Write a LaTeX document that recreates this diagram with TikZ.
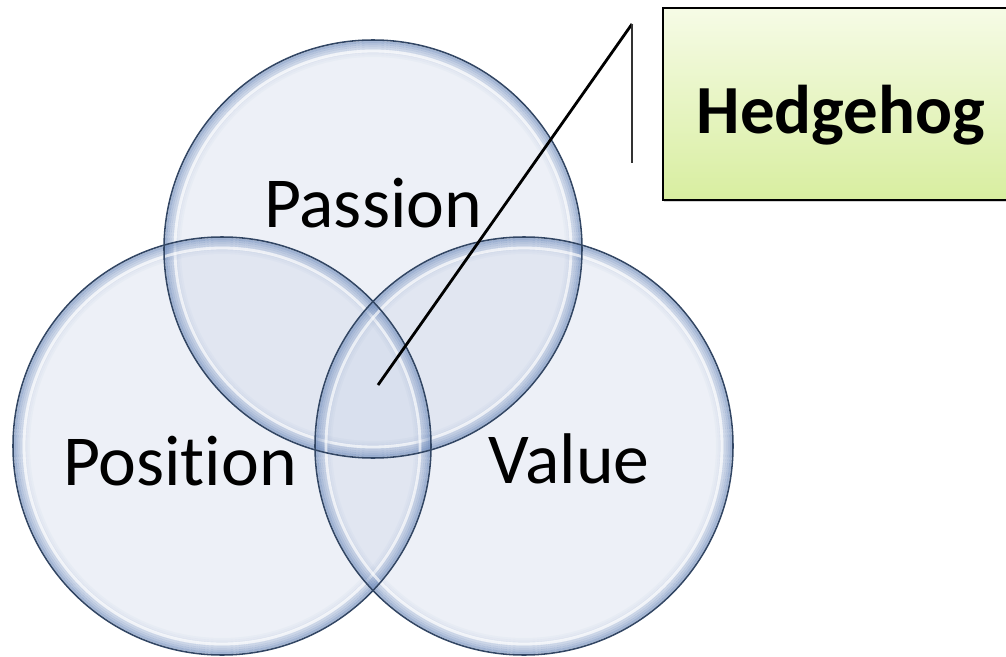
\documentclass[tikz,border=0pt]{standalone}
\usepackage{fontspec}
\setmainfont{Carlito}[Ligatures=NoCommon]
\definecolor{vennfill}{RGB}{200, 210, 230}
\definecolor{vennrim}{RGB}{105, 135, 185}
\definecolor{vennline}{RGB}{50, 70, 100}
\definecolor{boxtop}{RGB}{246, 251, 230}
\definecolor{boxbot}{RGB}{216, 238, 160}
\usepackage{tikz}
\usetikzlibrary{positioning, shadows}

\begin{document}
\begin{tikzpicture}[x=0.025cm, y=-0.025cm,
    label/.style={anchor=base, inner sep=0pt, font=\fontsize{51}{60}\selectfont},
    pointer/.style={black, line width=2pt},
    accentbar/.style={black!80, line width=0.9pt}]
        \useasboundingbox (0,0) rectangle (1006,657);
        \clip (0,0) rectangle (1006,657);
        % circle centres
        \coordinate (cPassion)  at (373,249);
        \coordinate (cPosition) at (222,446);
        \coordinate (cValue)    at (524,446);
        \foreach \c in {cPassion,cPosition,cValue}
          \fill[vennfill, fill opacity=0.33] (\c) circle[radius=209];
        \foreach \c in {cPassion,cPosition,cValue} {
          \foreach \d/\o in {2/0.55,4/0.42,6/0.32,8/0.24,10/0.17,12/0.11,14/0.07,16/0.04}
            \draw[vennrim, line width=1.5pt, draw opacity=\o] (\c) circle[radius=209-\d];
          \draw[white, line width=2pt, draw opacity=0.65] (\c) circle[radius=198];
        }
        \foreach \c in {cPassion,cPosition,cValue}
          \draw[vennline, line width=1.1pt] (\c) circle[radius=209];
        \node[label] (passion)  at (373,227) {Passion};
        \node[label] (position) at (180,485) {Position};
        \node[label] (value)    at (569,483) {Value};
        % callout
        \node[draw=black, line width=1.4pt, top color=boxtop, bottom color=boxbot,
              drop shadow={shadow xshift=0.8pt, shadow yshift=-1.5pt, opacity=0.35},
              anchor=north west, minimum width=8.95cm, minimum height=4.8cm,
              inner sep=0pt] (hedgebox) at (662,7) {};
        \node[label, font=\fontsize{49}{58}\selectfont\bfseries] (hedgehog) at (841,133) {Hedgehog};
        \coordinate (tip)    at (378,385);
        \coordinate (bartop) at (632,24);
        \coordinate (barbot) at (632,163);
        \draw[pointer] (tip) -- (bartop);
        \draw[accentbar] (bartop) -- (barbot);
\end{tikzpicture}
\end{document}
